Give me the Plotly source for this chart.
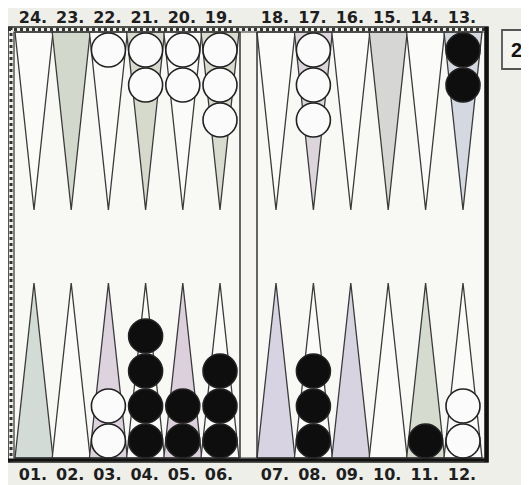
import plotly.graph_objects as go

# ---- data ----
top_points = [24, 23, 22, 21, 20, 19, 18, 17, 16, 15, 14, 13]
bottom_points = [1, 2, 3, 4, 5, 6, 7, 8, 9, 10, 11, 12]
top_labels = ["24.", "23.", "22.", "21.", "20.", "19.", "18.", "17.", "16.", "15.", "14.", "13."]
bottom_labels = ["01.", "02.", "03.", "04.", "05.", "06.", "07.", "08.", "09.", "10.", "11.", "12."]
white_points = [22, 21, 20, 19, 17, 3, 12]
white_counts = [1, 2, 2, 3, 3, 2, 2]
black_points = [13, 4, 5, 6, 8, 11]
black_counts = [2, 4, 2, 3, 3, 1]
cube_value = "2"

# ---- geometry helpers (pixel-like board units) ----
def col_of(p):
    return 24 - p if p >= 13 else p - 1

def x_of(c):
    return 34 + 37.2 * c if c < 6 else 276 + 37.4 * (c - 6)

def label_x(c):
    return x_of(c) - 1

def is_top(p):
    return p >= 13

TOP_BASE, TOP_TIP = 32, 210
BOT_BASE, BOT_TIP = 458, 283
HALF = 19
R_STEP = 35

shade_top = {23: "#d3d8cc", 21: "#d5dacd", 19: "#d8dccf", 17: "#dcd6dc", 15: "#d6d6d4", 13: "#d4d8e0"}
shade_bot = {1: "#d2dbd6", 3: "#ddd3de", 5: "#dcd0dc", 7: "#d7d3e2", 9: "#d8d3e0", 11: "#d5dccf"}

fig = go.Figure()

# triangles
for p in top_points + bottom_points:
    c = col_of(p)
    xc = x_of(c)
    if is_top(p):
        base, tip = TOP_BASE, TOP_TIP
        fill = shade_top.get(p, "#fbfbf9")
    else:
        base, tip = BOT_BASE, BOT_TIP
        fill = shade_bot.get(p, "#fbfbf9")
    fig.add_trace(go.Scatter(
        x=[xc - HALF, xc, xc + HALF, xc - HALF],
        y=[base, tip, base, base],
        mode="lines", fill="toself", fillcolor=fill,
        line=dict(color="#3a3a3a", width=1.3),
        hoverinfo="skip", showlegend=False))

# checkers
def add_checkers(points, counts, fill):
    xs, ys = [], []
    for p, n in zip(points, counts):
        xc = x_of(col_of(p))
        for k in range(n):
            xs.append(xc)
            ys.append(50 + R_STEP * k if is_top(p) else 441 - R_STEP * k)
    fig.add_trace(go.Scatter(
        x=xs, y=ys, mode="markers",
        marker=dict(size=34, color=fill, line=dict(color="#222", width=1.6)),
        hoverinfo="skip", showlegend=False))

add_checkers(white_points, white_counts, "#fbfbfb")
add_checkers(black_points, black_counts, "#0e0e0e")

# point labels
lab_font = dict(family="DejaVu Sans", size=16, color="#1e1e1e", weight="bold")
fig.add_trace(go.Scatter(
    x=[label_x(col_of(p)) for p in top_points], y=[18.5] * 12,
    mode="text", text=top_labels, textfont=lab_font,
    hoverinfo="skip", showlegend=False))
fig.add_trace(go.Scatter(
    x=[label_x(col_of(p)) for p in bottom_points], y=[475.5] * 12,
    mode="text", text=bottom_labels, textfont=lab_font,
    hoverinfo="skip", showlegend=False))

shapes = [
    # board background halves
    dict(type="rect", x0=14, x1=240, y0=32, y1=458, fillcolor="#f8f8f5", line_width=0, layer="below"),
    dict(type="rect", x0=257, x1=485, y0=32, y1=458, fillcolor="#f8f8f5", line_width=0, layer="below"),
    dict(type="rect", x0=240, x1=257, y0=32, y1=458, fillcolor="#f6f5f0", line_width=0, layer="below"),
    # frame
    dict(type="rect", x0=8, x1=488, y0=27, y1=462, line=dict(color="#222", width=1.5)),
    dict(type="rect", x0=14, x1=485, y0=32, y1=458, line=dict(color="#333", width=1.2)),
    dict(type="line", x0=8, x1=488, y0=29.5, y1=29.5, line=dict(color="#333", width=3, dash="dot")),
    dict(type="line", x0=11, x1=11, y0=27, y1=462, line=dict(color="#333", width=3, dash="dot")),
    dict(type="line", x0=486.5, x1=486.5, y0=27, y1=462, line=dict(color="#111", width=4)),
    dict(type="line", x0=8, x1=488, y0=460, y1=460, line=dict(color="#111", width=3)),
    # bar
    dict(type="line", x0=240, x1=240, y0=32, y1=458, line=dict(color="#333", width=1.5)),
    dict(type="line", x0=257, x1=257, y0=32, y1=458, line=dict(color="#333", width=1.5)),
    # cube
    dict(type="rect", x0=502, x1=545, y0=30, y1=69, fillcolor="#f4f4f0", line=dict(color="#555", width=1.8)),
]

# the page body has an 8px margin: the figure covers page pixels 8..529 / 8..485
fig.update_layout(
    width=521, height=477,
    margin=dict(l=0, r=0, t=0, b=0),
    paper_bgcolor="#efefea", plot_bgcolor="#efefea",
    xaxis=dict(range=[8, 529], visible=False, fixedrange=True),
    yaxis=dict(range=[485, 8], visible=False, fixedrange=True),
    shapes=shapes,
    annotations=[dict(x=516, y=50, text="<b>" + cube_value + "</b>", showarrow=False,
                      font=dict(family="Liberation Sans", size=20, color="#111"))],
)

fig.write_html("out.html")
